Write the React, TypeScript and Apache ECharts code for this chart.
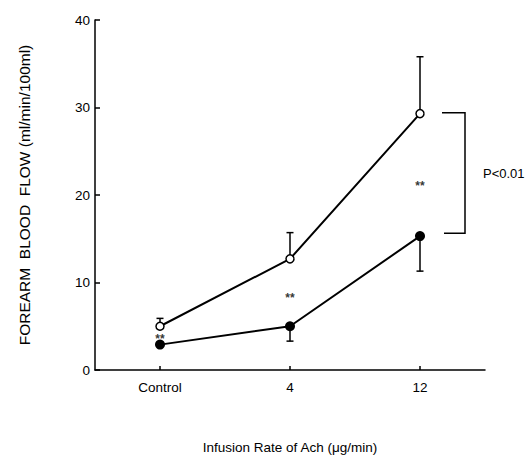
import React, { useEffect, useRef } from "react";
import * as echarts from "echarts";

const categories = ["Control", "4", "12"];
const openValues = [5.0, 12.7, 29.3];
const openUpper = [5.9, 15.7, 35.8];
const filledValues = [2.9, 5.0, 15.3];
const filledLower = [null, 3.3, 11.3];
const starPositions = [
  [0, 3.8],
  [1, 8.45],
  [2, 21.3],
];
const yTicks = { min: 0, max: 40, interval: 10 };
const bracketText = "P<0.01";

const FONT = "Liberation Sans, Arial, Helvetica, sans-serif";

export default function App() {
  const ref = useRef<HTMLDivElement>(null);
  useEffect(() => {
    if (!ref.current) return;
    const chart = echarts.init(ref.current, null, { renderer: "svg" });

    const errData: any[] = [];
    openUpper.forEach((v, i) => {
      if (v != null) errData.push([i, openValues[i], v]);
    });
    filledLower.forEach((v, i) => {
      if (v != null) errData.push([i, filledValues[i], v]);
    });

    const option: any = {
      animation: false,
      backgroundColor: "#fff",
      textStyle: { fontFamily: FONT },
      grid: { left: 95, right: 44, top: 20, bottom: 84, containLabel: false },
      xAxis: {
        type: "category",
        data: categories,
        boundaryGap: true,
        name: "Infusion Rate of Ach (\u03bcg/min)",
        nameLocation: "middle",
        nameGap: 70,
        nameTextStyle: { color: "#000", fontSize: 13.5, fontFamily: FONT },
        axisLine: { show: true, lineStyle: { color: "#000", width: 1.5 } },
        axisTick: { show: true, inside: true, alignWithLabel: true, length: 4, lineStyle: { color: "#000", width: 1.5 } },
        axisLabel: { color: "#000", fontSize: 13.5, margin: 10, fontFamily: FONT },
        splitLine: { show: false },
      },
      yAxis: {
        type: "value",
        min: yTicks.min,
        max: yTicks.max,
        interval: yTicks.interval,
        name: "FOREARM  BLOOD  FLOW (ml/min/100ml)",
        nameLocation: "middle",
        nameRotate: 90,
        nameGap: 63,
        nameTextStyle: { color: "#000", fontSize: 15.5, fontFamily: FONT },
        axisLine: { show: true, lineStyle: { color: "#000", width: 1.5 } },
        axisTick: { show: true, inside: true, length: 5, lineStyle: { color: "#000", width: 1.5 } },
        axisLabel: { color: "#000", fontSize: 13.5, margin: 5, fontFamily: FONT },
        splitLine: { show: false },
      },
      series: [
        {
          type: "custom",
          z: 1,
          data: errData,
          renderItem: (params: any, api: any) => {
            const x = api.value(0);
            const p0 = api.coord([x, api.value(1)]);
            const p1 = api.coord([x, api.value(2)]);
            const cap = 3.5;
            return {
              type: "group",
              children: [
                { type: "line", shape: { x1: p0[0], y1: p0[1], x2: p1[0], y2: p1[1] }, style: { stroke: "#000", lineWidth: 1.5 } },
                { type: "line", shape: { x1: p1[0] - cap, y1: p1[1], x2: p1[0] + cap, y2: p1[1] }, style: { stroke: "#000", lineWidth: 1.5 } },
              ],
            };
          },
        },
        {
          type: "line",
          z: 3,
          data: openValues,
          symbol: "circle",
          symbolSize: 8,
          showAllSymbol: true,
          lineStyle: { color: "#000", width: 2 },
          itemStyle: { color: "#fff", borderColor: "#000", borderWidth: 1.5 },
        },
        {
          type: "line",
          z: 3,
          data: filledValues,
          symbol: "circle",
          symbolSize: 10,
          showAllSymbol: true,
          lineStyle: { color: "#000", width: 2 },
          itemStyle: { color: "#000", borderColor: "#000", borderWidth: 0 },
        },
        {
          type: "scatter",
          z: 4,
          data: starPositions,
          symbolSize: 0,
          itemStyle: { color: "#000" },
          label: {
            show: true,
            position: "inside",
            formatter: () => "**",
            color: "#000",
            fontSize: 12,
            fontWeight: "bold",
            fontFamily: FONT,
            offset: [0, 2],
          },
        },
        {
          type: "custom",
          z: 2,
          data: [[2, openValues[2], filledValues[2]]],
          renderItem: (params: any, api: any) => {
            const x = api.value(0);
            const top = api.coord([x, api.value(1)]);
            const bot = api.coord([x, api.value(2)]);
            const x1 = top[0] + 22;
            const x2 = top[0] + 45;
            const yt = top[1] - 1;
            const yb = bot[1] - 3;
            return {
              type: "group",
              children: [
                {
                  type: "polyline",
                  shape: { points: [[x1, yt], [x2, yt], [x2, yb], [x1 + 2, yb]] },
                  style: { stroke: "#000", lineWidth: 1.5, fill: "none" },
                },
                {
                  type: "text",
                  style: {
                    text: bracketText,
                    x: x2 + 18,
                    y: (yt + yb) / 2 + 1,
                    textAlign: "left",
                    textVerticalAlign: "middle",
                    fill: "#000",
                    fontSize: 13,
                    fontFamily: FONT,
                  },
                },
              ],
            };
          },
        },
      ],
    };
    chart.setOption(option);
    return () => chart.dispose();
  }, []);
  return <div ref={ref} style={{ width: 529, height: 459, position: "absolute", left: 0, top: 0 }} />;
}
